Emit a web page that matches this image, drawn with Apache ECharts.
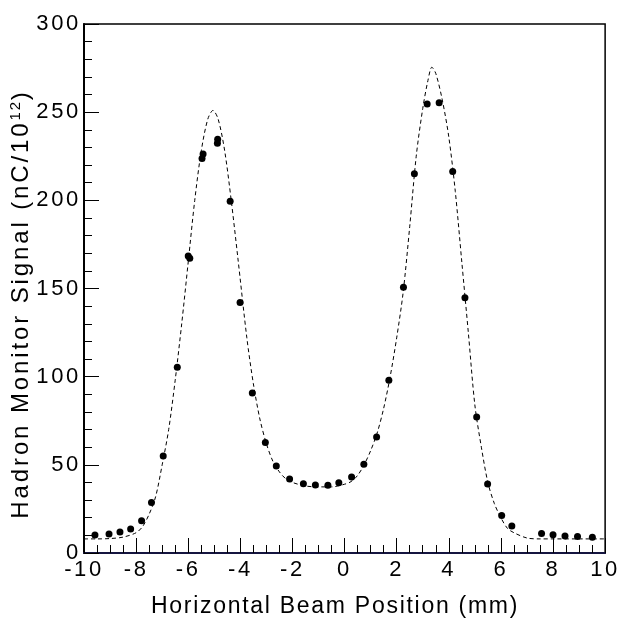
<!DOCTYPE html>
<html>
<head>
<meta charset="utf-8">
<script src="https://cdn.jsdelivr.net/npm/echarts@6/dist/echarts.min.js"></script>
<style>
html,body{margin:0;padding:0;background:#fff;}
#chart{width:623px;height:623px;}
</style>
</head>
<body>
<div id="chart"></div>
<script>
// Measured data points: horizontal beam position (mm)
var pointX = [-9.58, -9.04, -8.62, -8.21, -7.79, -7.41, -6.96, -6.42, -6.00, -5.94,
  -5.47, -5.43, -4.88, -4.87, -4.39, -4.01, -3.54, -3.04, -2.62, -2.11,
  -1.58, -1.12, -0.64, -0.22, 0.27, 0.74, 1.23, 1.70, 2.26, 2.68,
  3.17, 3.63, 4.15, 4.62, 5.07, 5.49, 6.03, 6.42, 7.56, 8.00,
  8.46, 8.94, 9.51];
// Hadron monitor signal (nC/10^12)
var pointY = [10.2, 10.8, 11.9, 13.6, 18.3, 28.7, 55.0, 105.3, 168.5, 167.2,
  223.7, 226.3, 232.4, 234.6, 199.5, 142.0, 90.8, 62.6, 49.3, 42.0,
  39.3, 38.6, 38.4, 39.9, 43.1, 50.3, 65.8, 98.0, 150.7, 215.1,
  254.7, 255.4, 216.3, 144.8, 77.1, 39.1, 21.2, 15.3, 11.0, 10.4,
  9.6, 9.3, 8.9];
// Dashed fit curve
var curveX = [-10, -9.5, -9, -8.5, -8, -7.75, -7.5, -7.25, -7, -6.75,
  -6.5, -6.25, -6, -5.75, -5.5, -5.25, -5.05, -4.85, -4.6, -4.35,
  -4.1, -3.75, -3.5, -3.25, -3, -2.75, -2.5, -2.25, -2, -1.5,
  -1, -0.5, 0, 0.25, 0.5, 0.75, 1, 1.25, 1.5, 1.75,
  2, 2.25, 2.5, 2.75, 3, 3.2, 3.35, 3.5, 3.75, 4,
  4.25, 4.5, 4.75, 5, 5.25, 5.5, 5.75, 6, 6.25, 6.5,
  7, 7.5, 8, 9, 10];
var curveY = [8, 8, 8.2, 9, 11.5, 15, 22, 32, 50, 70,
  98, 130, 165, 200, 228, 246, 251, 246, 228, 200,
  168, 122, 96, 76, 62, 52, 46, 42, 40, 38,
  37.5, 37.5, 39, 40.5, 44, 50, 58, 68, 82, 100,
  122, 148, 185, 225, 252, 268, 275.5, 272, 257, 236,
  205, 165, 125, 84, 60, 40, 28, 20, 14, 11.5,
  8.5, 8, 8, 8, 8];
var yTicks = [0, 50, 100, 150, 200, 250, 300];
var xTicks = [-10, -8, -6, -4, -2, 0, 2, 4, 6, 8, 10];

var X_TITLE = 'Horizontal Beam Position (mm)';

// Widen letter spacing of canvas text (the reference uses spaced lettering)
(function () {
  var P = CanvasRenderingContext2D.prototype;
  function setLS(ctx, text) {
    var m = /(\d+(?:\.\d+)?)px/.exec(ctx.font || '');
    var fs = m ? parseFloat(m[1]) : 12;
    var ls = (text === X_TITLE) ? 0.075 : 0.12;
    try { ctx.letterSpacing = (fs * ls).toFixed(2) + 'px'; } catch (e) {}
  }
  ['fillText', 'strokeText', 'measureText'].forEach(function (name) {
    var orig = P[name];
    P[name] = function (t) { setLS(this, t); return orig.apply(this, arguments); };
  });
})();

var FONT = '"Liberation Sans", Arial, sans-serif';
var points = pointX.map(function (x, i) { return [x, pointY[i]]; });
var curve = curveX.map(function (x, i) { return [x, curveY[i]]; });

var chart = echarts.init(document.getElementById('chart'), null, {renderer: 'canvas'});
chart.setOption({
  animation: false,
  backgroundColor: '#fff',
  grid: {left: 84, right: 17, top: 24, bottom: 70, show: true, borderColor: '#000', borderWidth: 1.5, backgroundColor: 'transparent'},
  xAxis: {
    type: 'value', min: xTicks[0], max: xTicks[xTicks.length - 1], interval: 2,
    axisLine: {show: true, onZero: false, lineStyle: {color: '#151540', width: 2}},
    axisTick: {show: true, inside: true, length: 15, lineStyle: {color: '#000', width: 1}},
    minorTick: {show: true, splitNumber: 4, length: 8, lineStyle: {color: '#000', width: 1}},
    splitLine: {show: false},
    axisLabel: {color: '#000', fontFamily: FONT, fontSize: 22, margin: 5}
  },
  yAxis: {
    type: 'value', min: yTicks[0], max: yTicks[yTicks.length - 1], interval: 50,
    axisLine: {show: true, onZero: false, lineStyle: {color: '#000', width: 2}},
    axisTick: {show: true, inside: true, length: 15, lineStyle: {color: '#000', width: 1}},
    minorTick: {show: true, splitNumber: 5, length: 8, lineStyle: {color: '#000', width: 1}},
    splitLine: {show: false},
    axisLabel: {color: '#000', fontFamily: FONT, fontSize: 22, margin: 3}
  },
  graphic: [
    {type: 'text', x: 335, y: 607, style: {text: X_TITLE, fill: '#000', font: '23px ' + FONT, textAlign: 'center', textVerticalAlign: 'middle'}},
    {type: 'text', x: 21, y: 304, rotation: Math.PI / 2,
      style: {text: '{a|Hadron Monitor Signal (nC/10}{s|12}{a|)}', fill: '#000', textAlign: 'center', textVerticalAlign: 'middle',
        rich: {a: {fontFamily: FONT, fontSize: 24, lineHeight: 28, verticalAlign: 'bottom'}, s: {fontFamily: FONT, fontSize: 15, lineHeight: 28, verticalAlign: 'top'}}}}
  ],
  series: [
    {type: 'line', data: curve, smooth: 0.3, showSymbol: false, symbol: 'none', z: 2,
      lineStyle: {color: '#000', width: 1, type: [4, 3]}},
    {type: 'scatter', data: points, symbol: 'circle', symbolSize: 7, z: 3,
      itemStyle: {color: '#000', opacity: 1}}
  ]
});
</script>
</body>
</html>
